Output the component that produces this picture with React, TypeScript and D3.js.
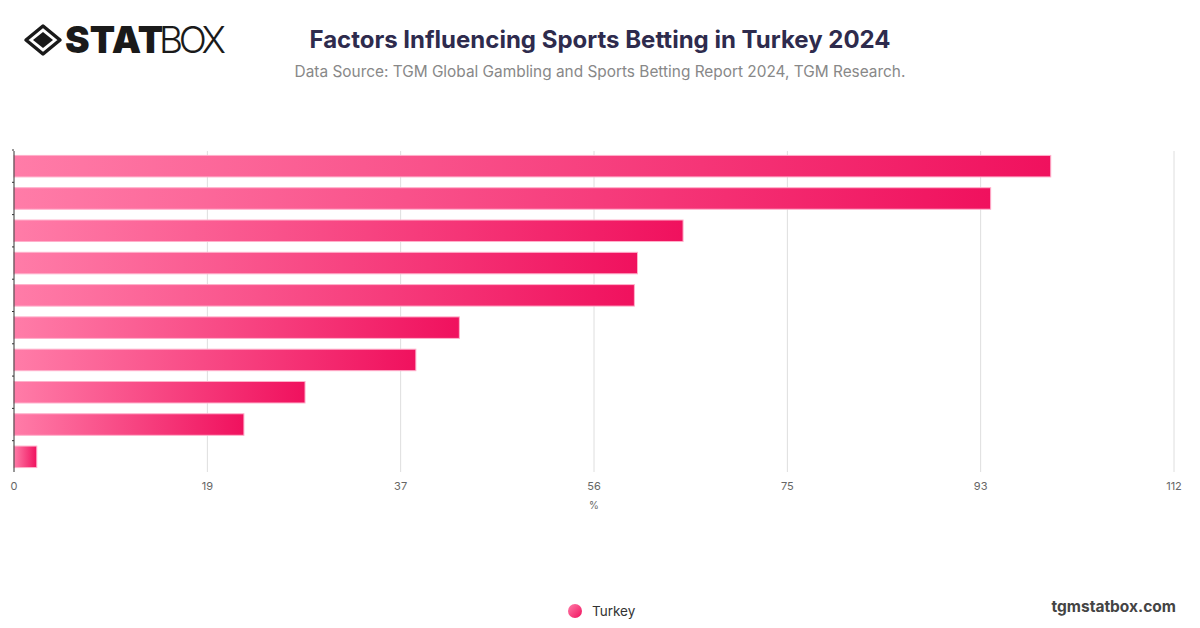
import React, { useEffect, useRef } from "react";
import * as d3 from "d3";

// values (categories are not labelled in the picture)
const categories = [
  "Factor 1", "Factor 2", "Factor 3", "Factor 4", "Factor 5",
  "Factor 6", "Factor 7", "Factor 8", "Factor 9", "Factor 10",
];
const turkeyValues = [100.1, 94.3, 64.6, 60.2, 59.9, 43, 38.8, 28.1, 22.2, 2.2];
const tickValues = [0, 18.67, 37.33, 56, 74.67, 93.33, 112];
const seriesName = "Turkey";

const width = 1200;
const height = 628;
const margin = { top: 151, right: 26, bottom: 156, left: 14 };

export default function App() {
  const ref = useRef<SVGSVGElement>(null);

  useEffect(() => {
    document.body.style.margin = "0";
    const svg = d3.select(ref.current);
    svg.selectAll("*").remove();

    const x = d3.scaleLinear().domain([0, 112]).range([margin.left, width - margin.right]);
    const y = d3
      .scaleBand()
      .domain(categories)
      .range([margin.top, height - margin.bottom])
      .paddingInner(0.334)
      .paddingOuter(0.137);

    const defs = svg.append("defs");
    const grad = defs.append("linearGradient").attr("id", "barGrad").attr("x1", 0).attr("x2", 1).attr("y1", 0).attr("y2", 0);
    grad.append("stop").attr("offset", "0%").attr("stop-color", "#ff7ca8");
    grad.append("stop").attr("offset", "100%").attr("stop-color", "#f0115e");
    const lg = defs.append("linearGradient").attr("id", "legGrad").attr("x1", 0).attr("x2", 1).attr("y1", 0).attr("y2", 1);
    lg.append("stop").attr("offset", "0%").attr("stop-color", "#ff7ca8");
    lg.append("stop").attr("offset", "100%").attr("stop-color", "#f0115e");

    // gridlines
    svg.append("g")
      .selectAll("line")
      .data(tickValues.slice(1))
      .join("line")
      .attr("x1", (d) => x(d))
      .attr("x2", (d) => x(d))
      .attr("y1", margin.top)
      .attr("y2", height - margin.bottom)
      .attr("stroke", "#dedede")
      .attr("stroke-width", 1);

    // tick labels
    svg.append("g")
      .selectAll("text")
      .data(tickValues)
      .join("text")
      .attr("x", (d) => x(d))
      .attr("y", 490)
      .attr("text-anchor", "middle")
      .attr("font-family", "Inter, 'Noto Sans', sans-serif")
      .attr("font-size", 11)
      .attr("fill", "#666")
      .text((d) => Math.round(d));

    svg.append("text")
      .attr("x", (x(0) + x(112)) / 2)
      .attr("y", 509)
      .attr("text-anchor", "middle")
      .attr("font-family", "Inter, 'Noto Sans', sans-serif")
      .attr("font-size", 10)
      .attr("fill", "#666")
      .text("%");

    // bars
    svg.append("g")
      .selectAll("rect")
      .data(turkeyValues)
      .join("rect")
      .attr("x", x(0))
      .attr("y", (d, i) => y(categories[i]) as number)
      .attr("width", (d) => x(d) - x(0))
      .attr("height", y.bandwidth())
      .attr("fill", "url(#barGrad)")
      .attr("stroke", "#ffb0cb")
      .attr("stroke-width", 1);

    // y axis line with small ticks
    const yAxis = svg.append("g");
    yAxis.append("line")
      .attr("x1", x(0)).attr("x2", x(0))
      .attr("y1", margin.top).attr("y2", height - margin.bottom)
      .attr("stroke", "#333").attr("stroke-width", 1);
    yAxis.selectAll("line.tk")
      .data(categories)
      .join("line")
      .attr("class", "tk")
      .attr("x1", x(0) - 2).attr("x2", x(0))
      .attr("y1", (d) => (y(d) as number) - (y.step() * y.paddingInner()) / 2)
      .attr("y2", (d) => (y(d) as number) - (y.step() * y.paddingInner()) / 2)
      .attr("stroke", "#333");

    // title
    svg.append("text")
      .attr("x", 600).attr("y", 48)
      .attr("text-anchor", "middle")
      .attr("font-family", "Inter, 'Noto Sans', sans-serif")
      .attr("font-weight", 700)
      .attr("font-size", 24)
      .attr("fill", "#2e2b4d")
      .text("Factors Influencing Sports Betting in Turkey 2024");
    svg.append("text")
      .attr("x", 600).attr("y", 77)
      .attr("text-anchor", "middle")
      .attr("font-family", "Inter, 'Noto Sans', sans-serif")
      .attr("font-size", 15.4)
      .attr("fill", "#888")
      .text("Data Source: TGM Global Gambling and Sports Betting Report 2024, TGM Research.");

    // logo
    const logo = svg.append("g");
    logo.append("path")
      .attr("d", "M43,26 L60,40 L43,54 L26,40 Z")
      .attr("fill", "none").attr("stroke", "#1a1a1a").attr("stroke-width", 3.5).attr("stroke-linejoin", "round");
    logo.append("path")
      .attr("d", "M43,32 L53,40 L43,48 L33,40 Z")
      .attr("fill", "#1a1a1a");
    logo.append("text")
      .attr("x", 65).attr("y", 53)
      .attr("font-family", "Inter, 'Noto Sans', sans-serif")
      .attr("font-weight", 900)
      .attr("font-size", 37)
      .attr("fill", "#1a1a1a")
      .text("STAT");
    logo.append("text")
      .attr("x", 159).attr("y", 53)
      .attr("font-family", "Inter, 'Noto Sans', sans-serif")
      .attr("font-weight", 300)
      .attr("font-size", 37)
      .attr("textLength", 67)
      .attr("fill", "#1a1a1a")
      .text("BOX");

    // legend
    svg.append("circle").attr("cx", 575).attr("cy", 611).attr("r", 7).attr("fill", "url(#legGrad)");
    svg.append("text")
      .attr("x", 592).attr("y", 616)
      .attr("font-family", "Inter, 'Noto Sans', sans-serif")
      .attr("font-size", 13.5)
      .attr("fill", "#333")
      .text(seriesName);

    svg.append("text")
      .attr("x", 1176).attr("y", 612)
      .attr("text-anchor", "end")
      .attr("font-family", "Inter, 'Noto Sans', sans-serif")
      .attr("font-weight", 700)
      .attr("font-size", 15.5)
      .attr("fill", "#444")
      .text("tgmstatbox.com");
  }, []);

  return <svg ref={ref} width={width} height={height} style={{ display: "block", background: "#fff" }} />;
}
